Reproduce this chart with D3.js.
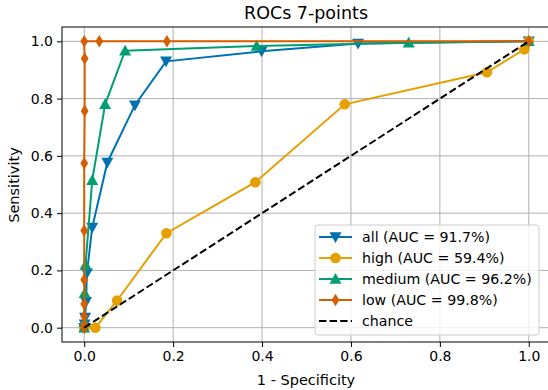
<!DOCTYPE html>
<html>
<head>
<meta charset="utf-8">
<script src="https://cdn.jsdelivr.net/npm/d3@7"></script>
<style>
  body { margin: 0; background: #fff; }
  svg { display: block; font-family: "DejaVu Sans", sans-serif; }
</style>
</head>
<body>
<svg id="chart" width="548" height="390"></svg>
<script>
// ROC points
const allFpr = [0, 0.001, 0.002, 0.004, 0.006, 0.018, 0.052, 0.114, 0.184, 0.399, 0.616, 1.0];
const allTpr = [0, 0.012, 0.035, 0.09, 0.19, 0.35, 0.577, 0.777, 0.93, 0.965, 0.992, 1.0];

const highFpr = [0, 0.025, 0.074, 0.185, 0.385, 0.586, 0.906, 0.99, 1.0];
const highTpr = [0, 0, 0.095, 0.33, 0.508, 0.78, 0.892, 0.972, 1.0];

const mediumFpr = [0, 0.001, 0.001, 0.003, 0.018, 0.047, 0.092, 0.388, 0.73, 1.0];
const mediumTpr = [0, 0.02, 0.12, 0.22, 0.515, 0.78, 0.967, 0.984, 0.995, 1.0];

const lowFpr = [0, 0, 0, 0, 0, 0, 0, 0.001, 0.001, 0, 0.034, 0.186, 1.0];
const lowTpr = [0, 0.01, 0.04, 0.083, 0.167, 0.339, 0.574, 0.757, 0.94, 1.0, 1.0, 1.0, 1.0];

const seriesNames = ["all", "high", "medium", "low"];
const aucValues = [91.7, 59.4, 96.2, 99.8];
const ticks = [0, 0.2, 0.4, 0.6, 0.8, 1.0];

const colours = ["#0072B2", "#E69F00", "#009E73", "#D55E00"];
const markers = ["tri-down", "circle", "tri-up", "diamond"];

const series = [
    [allFpr, allTpr],
    [highFpr, highTpr],
    [mediumFpr, mediumTpr],
    [lowFpr, lowTpr]
].map((s, i) => ({
    name: seriesNames[i],
    auc: aucValues[i],
    colour: colours[i],
    marker: markers[i],
    points: s[0].map((x, j) => [x, s[1][j]])
}));

const svg = d3.select("#chart");
const margin = { top: 27, right: -3, bottom: 48, left: 62 };
const width = 548 - margin.left - margin.right;
const height = 390 - margin.top - margin.bottom;

const xScale = d3.scaleLinear().domain([-0.05, 1.05]).range([margin.left, margin.left + width]);
const yScale = d3.scaleLinear().domain([-0.05, 1.05]).range([margin.top + height, margin.top]);

const markerPath = (type) => {
    const r = 6;
    if (type === "tri-down") return `M${-r},${-r * 0.8}L${r},${-r * 0.8}L0,${r * 1.0}Z`;
    if (type === "tri-up") return `M${-r},${r * 0.8}L${r},${r * 0.8}L0,${-r * 1.0}Z`;
    if (type === "diamond") return `M0,${-r * 1.05}L${r * 0.65},0L0,${r * 1.05}L${-r * 0.65},0Z`;
    return d3.symbol(d3.symbolCircle, Math.PI * 5.3 * 5.3)();
};

// grid
svg.append("g").selectAll("line.gx")
    .data(ticks)
    .join("line")
    .attr("x1", d => xScale(d)).attr("x2", d => xScale(d))
    .attr("y1", margin.top).attr("y2", margin.top + height)
    .attr("stroke", "#b0b0b0").attr("stroke-width", 1);
svg.append("g").selectAll("line.gy")
    .data(ticks)
    .join("line")
    .attr("y1", d => yScale(d)).attr("y2", d => yScale(d))
    .attr("x1", margin.left).attr("x2", margin.left + width)
    .attr("stroke", "#b0b0b0").attr("stroke-width", 1);

// axes
const xAxis = d3.axisBottom(xScale).tickValues(ticks).tickFormat(d3.format(".1f")).tickSize(5).tickPadding(4);
const yAxis = d3.axisLeft(yScale).tickValues(ticks).tickFormat(d3.format(".1f")).tickSize(5).tickPadding(4);

svg.append("g")
    .attr("transform", `translate(0,${margin.top + height})`)
    .call(xAxis)
    .call(g => g.select(".domain").remove())
    .call(g => g.selectAll("text").attr("font-size", 14).attr("fill", "#000").attr("font-family", "DejaVu Sans"))
    .call(g => g.selectAll("line").attr("stroke", "#000").attr("stroke-width", 1));
svg.append("g")
    .attr("transform", `translate(${margin.left},0)`)
    .call(yAxis)
    .call(g => g.select(".domain").remove())
    .call(g => g.selectAll("text").attr("font-size", 14).attr("fill", "#000").attr("font-family", "DejaVu Sans"))
    .call(g => g.selectAll("line").attr("stroke", "#000").attr("stroke-width", 1));

// curves
const line = d3.line().x(d => xScale(d[0])).y(d => yScale(d[1]));
const plot = svg.append("g");
series.forEach(s => {
    plot.append("path")
        .datum(s.points)
        .attr("fill", "none")
        .attr("stroke", s.colour)
        .attr("stroke-width", 2)
        .attr("d", line);
    plot.selectAll(null)
        .data(s.points)
        .join("path")
        .attr("transform", d => `translate(${xScale(d[0])},${yScale(d[1])})`)
        .attr("d", markerPath(s.marker))
        .attr("fill", s.colour);
});

// chance line
plot.append("path")
    .datum([[0, 0], [1, 1]])
    .attr("fill", "none")
    .attr("stroke", "#000")
    .attr("stroke-width", 2)
    .attr("stroke-dasharray", "7.4,3.2")
    .attr("d", line);

// spines
svg.append("rect")
    .attr("x", margin.left).attr("y", margin.top)
    .attr("width", width).attr("height", height)
    .attr("fill", "none").attr("stroke", "#000").attr("stroke-width", 1);

// title and labels
svg.append("text")
    .attr("x", 306).attr("y", 19)
    .attr("text-anchor", "middle")
    .attr("font-size", 17.5)
    .text("ROCs 7-points");
svg.append("text")
    .attr("x", 306).attr("y", 385)
    .attr("text-anchor", "middle")
    .attr("font-size", 14.5)
    .text("1 - Specificity");
svg.append("text")
    .attr("transform", "translate(19,185) rotate(-90)")
    .attr("text-anchor", "middle")
    .attr("font-size", 14.5)
    .text("Sensitivity");

// legend
const legend = svg.append("g").attr("transform", "translate(315,225)");
legend.append("rect")
    .attr("width", 224).attr("height", 110)
    .attr("rx", 3)
    .attr("fill", "#fff").attr("fill-opacity", 0.8)
    .attr("stroke", "#cccccc").attr("stroke-width", 1);

const legendItems = series.map(s => ({ label: `${s.name} (AUC = ${s.auc}%)`, colour: s.colour, marker: s.marker }))
    .concat([{ label: "chance", colour: "#000", marker: null }]);

const rows = legend.selectAll("g.row")
    .data(legendItems)
    .join("g")
    .attr("transform", (d, i) => `translate(0,${12 + i * 21})`);
rows.append("line")
    .attr("x1", 4).attr("x2", 37)
    .attr("stroke", d => d.colour)
    .attr("stroke-width", 2)
    .attr("stroke-dasharray", d => d.marker ? null : "7.4,3.2");
rows.filter(d => d.marker)
    .append("path")
    .attr("transform", "translate(20.5,0)")
    .attr("d", d => markerPath(d.marker))
    .attr("fill", d => d.colour);
rows.append("text")
    .attr("x", 47).attr("y", 0)
    .attr("dominant-baseline", "central")
    .attr("font-size", 14.2)
    .text(d => d.label);
</script>
</body>
</html>
